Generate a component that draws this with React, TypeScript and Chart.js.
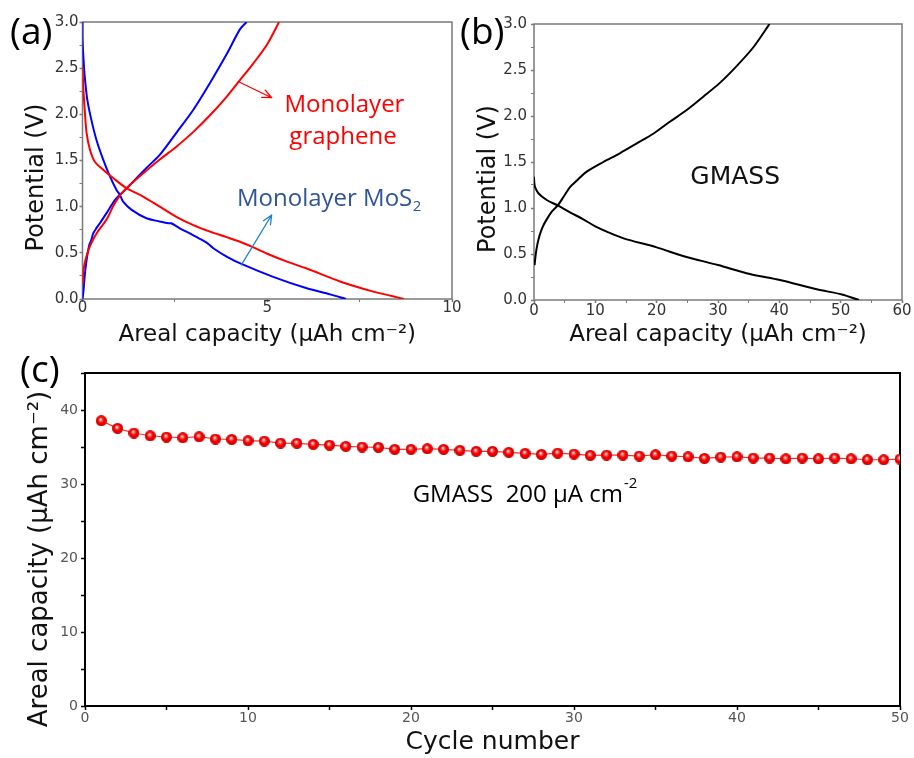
import React, { useEffect, useRef } from 'react';
import { Chart, registerables } from 'chart.js';

Chart.register(...registerables);

const SANS = '"DejaVu Sans", "Liberation Sans", Arial, sans-serif';
const CAL = '"Open Sans", "Noto Sans", sans-serif';
const RED = '#ff0000';
const BLUE = '#0000ff';
const GRAY = '#7a7a7a';
const MOS_TEXT = '#2f5597';
const MOS_ARROW = '#1f82cc';

// ===== Panel (a): monolayer graphene vs monolayer MoS2 =====
const grapheneChargeX = [0, 0.02, 0.06, 0.12, 0.2, 0.38, 0.65, 0.85, 1.01, 1.19, 1.55, 2.09, 2.54, 3.0, 3.45, 3.9, 4.26, 4.62, 5.0, 5.32];
const grapheneChargeY = [0.15, 0.28, 0.39, 0.48, 0.57, 0.71, 0.86, 1.02, 1.12, 1.2, 1.33, 1.51, 1.65, 1.81, 1.99, 2.19, 2.37, 2.55, 2.76, 3.0];
const grapheneDischargeX = [0, 0.01, 0.03, 0.06, 0.11, 0.2, 0.33, 0.56, 0.83, 1.19, 1.64, 2.09, 2.54, 3.0, 3.45, 3.9, 4.26, 4.58, 5.0, 5.5, 6.07, 6.97, 7.87, 8.4, 8.7];
const grapheneDischargeY = [2.52, 2.4, 2.23, 2.05, 1.8, 1.62, 1.49, 1.4, 1.31, 1.2, 1.11, 1.0, 0.89, 0.8, 0.73, 0.67, 0.62, 0.567, 0.49, 0.41, 0.33, 0.19, 0.08, 0.03, 0.0];
const mosChargeX = [0, 0.02, 0.06, 0.11, 0.18, 0.24, 0.29, 0.38, 0.47, 0.65, 0.875, 1.01, 1.1, 1.37, 1.73, 2.09, 2.54, 3.0, 3.45, 3.9, 4.26, 4.44];
const mosChargeY = [0, 0.06, 0.25, 0.42, 0.58, 0.64, 0.71, 0.77, 0.82, 0.93, 1.07, 1.13, 1.16, 1.27, 1.42, 1.56, 1.8, 2.05, 2.34, 2.65, 2.92, 3.0];
const mosDischargeX = [0, 0, 0.01, 0.03, 0.06, 0.13, 0.24, 0.38, 0.56, 0.74, 0.92, 1.01, 1.1, 1.33, 1.73, 2.09, 2.32, 2.4, 2.63, 3.0, 3.36, 3.54, 3.9, 4.3, 5.16, 6.07, 6.7, 7.13];
const mosDischargeY = [3.0, 2.85, 2.72, 2.58, 2.41, 2.16, 1.94, 1.72, 1.51, 1.33, 1.18, 1.13, 1.055, 0.965, 0.875, 0.84, 0.82, 0.82, 0.766, 0.69, 0.61, 0.55, 0.46, 0.38, 0.24, 0.116, 0.05, 0.0];

// ===== Panel (b): GMASS =====
const gmassChargeX = [0.1, 0.2, 0.4, 0.7, 1.1, 1.6, 2.2, 2.9, 3.9, 4.8, 5.9, 7.0, 8.6, 11.3, 14.0, 16.7, 19.5, 22.2, 24.9, 27.6, 30.3, 33.0, 35.8, 38.4];
const gmassChargeY = [0.38, 0.45, 0.55, 0.65, 0.74, 0.82, 0.89, 0.96, 1.03, 1.12, 1.23, 1.3, 1.395, 1.5, 1.595, 1.7, 1.81, 1.94, 2.065, 2.21, 2.36, 2.54, 2.75, 3.0];
const gmassDischargeX = [0, 0.05, 0.16, 0.71, 2.07, 3.96, 5.87, 8.04, 10.0, 11.85, 14.6, 20.0, 24.3, 30.0, 35.2, 40.1, 46.1, 50.2, 53.0];
const gmassDischargeY = [1.34, 1.27, 1.23, 1.16, 1.087, 1.025, 0.953, 0.877, 0.8, 0.743, 0.67, 0.572, 0.478, 0.38, 0.283, 0.217, 0.116, 0.06, 0.0];

// ===== Panel (c): cycling =====
const cycles = [1, 2, 3, 4, 5, 6, 7, 8, 9, 10, 11, 12, 13, 14, 15, 16, 17, 18, 19, 20, 21, 22, 23, 24, 25, 26, 27, 28, 29, 30, 31, 32, 33, 34, 35, 36, 37, 38, 39, 40, 41, 42, 43, 44, 45, 46, 47, 48, 49, 50];
const arealCapacity = [38.55, 37.52, 36.89, 36.52, 36.35, 36.25, 36.39, 36.08, 36.03, 35.85, 35.8, 35.53, 35.5, 35.36, 35.26, 35.09, 35.0, 34.95, 34.68, 34.68, 34.77, 34.68, 34.55, 34.41, 34.41, 34.28, 34.14, 34.0, 34.18, 34.05, 33.87, 33.91, 33.91, 33.78, 33.95, 33.78, 33.68, 33.46, 33.64, 33.68, 33.51, 33.51, 33.41, 33.51, 33.41, 33.51, 33.41, 33.28, 33.28, 33.37];

// ===== Tick values =====
const aXMajor = [0, 5, 10];
const aXMinor = [2.5, 7.5];
const potMajor = [0, 0.5, 1, 1.5, 2, 2.5, 3];
const potMinor = [0.25, 0.75, 1.25, 1.75, 2.25, 2.75];
const bXMajor = [0, 10, 20, 30, 40, 50, 60];
const bXMinor = [5, 15, 25, 35, 45, 55];
const cXMajor = [0, 10, 20, 30, 40, 50];
const cXMinor = [5, 15, 25, 35, 45];
const cYMajor = [0, 10, 20, 30, 40];
const cYMinor = [5, 15, 25, 35, 45];

// ===== Annotations (data units) =====
const grapheneLabelLines = ['Monolayer', 'graphene'];
const grapheneLabelX = [7.09, 7.05];
const grapheneLabelY = [2.025, 1.68];
const grapheneArrowFrom = [4.24, 2.35];
const grapheneArrowTo = [5.12, 2.18];
const mosLabelAt = [4.18, 1.01];
const mosArrowFrom = [4.3, 0.37];
const mosArrowTo = [5.12, 0.91];
const gmassLabelAt = [32.8, 1.258];
const cycleLabelAt = [20.1, 27.6];

const pts = (xs: number[], ys: number[]) => xs.map((x, i) => ({ x, y: ys[i] }));

type AxisSpec = {
  min: number; max: number; major: number[]; minor: number[];
  horizontal: boolean; size: number; fmt: (v: number) => string;
  tickFont: number; tickColor: string; tickPad: number; tickLen: number;
  lineColor: string; majorW: number; minorW: number;
  title?: string; titleSize?: number; titlePadBottom?: number;
};

function axis(s: AxisSpec) {
  const all = [...s.major, ...s.minor].sort((p, q) => p - q);
  return {
    type: 'linear',
    min: s.min,
    max: s.max,
    afterBuildTicks: (sc: any) => { sc.ticks = all.map((v) => ({ value: v })); },
    afterFit: (sc: any) => {
      if (s.horizontal) sc.height = s.size; else sc.width = s.size;
      sc.paddingLeft = 0; sc.paddingRight = 0; sc.paddingTop = 0; sc.paddingBottom = 0;
    },
    ticks: {
      autoSkip: false, maxRotation: 0, minRotation: 0,
      padding: s.tickPad, color: s.tickColor,
      font: { family: SANS, size: s.tickFont },
      callback: (v: number) => (s.major.includes(v) ? s.fmt(v) : ''),
    },
    grid: {
      display: true, drawOnChartArea: false, drawTicks: true,
      tickLength: s.tickLen, tickColor: s.lineColor,
      tickWidth: (c: any) => (c.tick && s.major.includes(c.tick.value) ? s.majorW : s.minorW),
    },
    border: { display: false },
    title: s.title
      ? { display: true, text: s.title, color: '#111', font: { family: SANS, size: s.titleSize }, padding: { top: 0, bottom: s.titlePadBottom } }
      : { display: false },
  };
}

function drawBox(chart: any, color: string, width: number) {
  const { ctx, chartArea: a } = chart;
  ctx.save();
  ctx.strokeStyle = color;
  ctx.lineWidth = width;
  ctx.strokeRect(a.left, a.top, a.right - a.left, a.bottom - a.top);
  ctx.restore();
}

function drawArrow(ctx: CanvasRenderingContext2D, x1: number, y1: number, x2: number, y2: number, color: string) {
  const ang = Math.atan2(y2 - y1, x2 - x1);
  const L = 10, sp = 0.42;
  ctx.save();
  ctx.strokeStyle = color; ctx.lineWidth = 1.3; ctx.lineCap = 'round'; ctx.lineJoin = 'round';
  ctx.beginPath();
  ctx.moveTo(x1, y1); ctx.lineTo(x2, y2);
  ctx.moveTo(x2 - L * Math.cos(ang - sp), y2 - L * Math.sin(ang - sp));
  ctx.lineTo(x2, y2);
  ctx.lineTo(x2 - L * Math.cos(ang + sp), y2 - L * Math.sin(ang + sp));
  ctx.stroke();
  ctx.restore();
}

function drawYTitle(ctx: CanvasRenderingContext2D, text: string, baseX: number, centerY: number, size: number) {
  ctx.save();
  ctx.translate(baseX, centerY);
  ctx.rotate(-Math.PI / 2);
  ctx.font = `${size}px ${SANS}`;
  ctx.fillStyle = '#111';
  ctx.textAlign = 'center';
  ctx.textBaseline = 'alphabetic';
  ctx.fillText(text, 0, 0);
  ctx.restore();
}

function panelLabel(ctx: CanvasRenderingContext2D, text: string, x: number, y: number) {
  ctx.save();
  ctx.font = `37px ${CAL}`;
  ctx.fillStyle = '#000';
  ctx.textAlign = 'left';
  ctx.textBaseline = 'alphabetic';
  ctx.fillText(text, x, y);
  ctx.restore();
}

const decorA = {
  id: 'decorA',
  beforeDatasetsDraw(chart: any) { drawBox(chart, GRAY, 1.5); },
  afterDraw(chart: any) {
    const { ctx } = chart;
    const px = (v: number) => chart.scales.x.getPixelForValue(v);
    const py = (v: number) => chart.scales.y.getPixelForValue(v);
    panelLabel(ctx, '(a)', 10, 44);
    drawYTitle(ctx, 'Potential (V)', 42.5, 177.5, 24);
    ctx.save();
    ctx.font = `24px ${CAL}`;
    ctx.textBaseline = 'alphabetic';
    ctx.fillStyle = RED;
    ctx.textAlign = 'center';
    grapheneLabelLines.forEach((t, i) => ctx.fillText(t, px(grapheneLabelX[i]), py(grapheneLabelY[i])));
    drawArrow(ctx, px(grapheneArrowFrom[0]), py(grapheneArrowFrom[1]), px(grapheneArrowTo[0]), py(grapheneArrowTo[1]), RED);
    ctx.fillStyle = MOS_TEXT;
    ctx.textAlign = 'left';
    const mx = px(mosLabelAt[0]), my = py(mosLabelAt[1]);
    ctx.fillText('Monolayer MoS', mx, my);
    const w = ctx.measureText('Monolayer MoS').width;
    ctx.font = `15px ${CAL}`;
    ctx.fillText('2', mx + w + 0.5, my + 5);
    drawArrow(ctx, px(mosArrowFrom[0]), py(mosArrowFrom[1]), px(mosArrowTo[0]), py(mosArrowTo[1]), MOS_ARROW);
    ctx.restore();
  },
};

const decorB = {
  id: 'decorB',
  beforeDatasetsDraw(chart: any) { drawBox(chart, GRAY, 1.5); },
  afterDraw(chart: any) {
    const { ctx } = chart;
    const px = (v: number) => chart.scales.x.getPixelForValue(v);
    const py = (v: number) => chart.scales.y.getPixelForValue(v);
    panelLabel(ctx, '(b)', 8, 44);
    drawYTitle(ctx, 'Potential (V)', 43, 179, 24);
    ctx.save();
    ctx.font = `25px ${SANS}`;
    ctx.fillStyle = '#111';
    ctx.textAlign = 'center';
    ctx.textBaseline = 'alphabetic';
    ctx.fillText('GMASS', px(gmassLabelAt[0]), py(gmassLabelAt[1]));
    ctx.restore();
  },
};

const decorC = {
  id: 'decorC',
  beforeDatasetsDraw(chart: any) { drawBox(chart, '#000', 2); },
  afterDraw(chart: any) {
    const { ctx } = chart;
    const px = (v: number) => chart.scales.x.getPixelForValue(v);
    const py = (v: number) => chart.scales.y.getPixelForValue(v);
    panelLabel(ctx, '(c)', 20, 42);
    drawYTitle(ctx, 'Areal capacity (μAh cm⁻²)', 47, 219, 26);
    ctx.save();
    ctx.font = `24px ${CAL}`;
    ctx.fillStyle = '#000';
    ctx.textAlign = 'left';
    ctx.textBaseline = 'alphabetic';
    const lx = px(cycleLabelAt[0]), ly = py(cycleLabelAt[1]);
    const main = 'GMASS  200 μA cm';
    ctx.fillText(main, lx, ly);
    const w = ctx.measureText(main).width;
    ctx.font = `15px ${CAL}`;
    ctx.fillText('-2', lx + w + 1, ly - 14);
    ctx.restore();
  },
};

const baseOptions = (padding: any) => ({
  responsive: false,
  maintainAspectRatio: false,
  animation: false,
  events: [],
  layout: { padding },
  plugins: { legend: { display: false }, tooltip: { enabled: false }, title: { display: false } },
});

const curve = (data: any[], color: string) => ({
  data, borderColor: color, backgroundColor: color, borderWidth: 2, pointRadius: 0, tension: 0.3, fill: false,
});

function buildA() {
  return {
    type: 'line',
    data: {
      datasets: [
        curve(pts(grapheneChargeX, grapheneChargeY), RED),
        curve(pts(grapheneDischargeX, grapheneDischargeY), RED),
        curve(pts(mosChargeX, mosChargeY), BLUE),
        curve(pts(mosDischargeX, mosDischargeY), BLUE),
      ],
    },
    options: {
      ...baseOptions({ left: 0, top: 22, right: 18, bottom: 0 }),
      scales: {
        x: axis({ min: 0, max: 10, major: aXMajor, minor: aXMinor, horizontal: true, size: 52, fmt: (v) => String(v), tickFont: 15, tickColor: '#333', tickPad: -3, tickLen: 3, lineColor: GRAY, majorW: 1.5, minorW: 1, title: 'Areal capacity (μAh cm⁻²)', titleSize: 23, titlePadBottom: 2 }),
        y: axis({ min: 0, max: 3, major: potMajor, minor: potMinor, horizontal: false, size: 82.5, fmt: (v) => v.toFixed(1), tickFont: 15, tickColor: '#333', tickPad: 1, tickLen: 3, lineColor: GRAY, majorW: 1.5, minorW: 1 }),
      },
    },
    plugins: [decorA],
  };
}

function buildB() {
  return {
    type: 'line',
    data: {
      datasets: [
        curve(pts(gmassChargeX, gmassChargeY), '#000'),
        curve(pts(gmassDischargeX, gmassDischargeY), '#000'),
      ],
    },
    options: {
      ...baseOptions({ left: 0, top: 24, right: 12, bottom: 0 }),
      scales: {
        x: axis({ min: 0, max: 60, major: bXMajor, minor: bXMinor, horizontal: true, size: 51, fmt: (v) => String(v), tickFont: 15, tickColor: '#333', tickPad: -1, tickLen: 3, lineColor: GRAY, majorW: 1.5, minorW: 1, title: 'Areal capacity (μAh cm⁻²)', titleSize: 23, titlePadBottom: 2 }),
        y: axis({ min: 0, max: 3, major: potMajor, minor: potMinor, horizontal: false, size: 82, fmt: (v) => v.toFixed(1), tickFont: 15, tickColor: '#333', tickPad: 4, tickLen: 3, lineColor: GRAY, majorW: 1.5, minorW: 1 }),
      },
    },
    plugins: [decorB],
  };
}

function buildC(sphere: HTMLCanvasElement) {
  return {
    type: 'line',
    data: {
      datasets: [{
        data: pts(cycles, arealCapacity),
        borderColor: '#ff2a2a', backgroundColor: RED, borderWidth: 1.2,
        pointStyle: sphere, pointRadius: 5, tension: 0, fill: false,
      }],
    },
    options: {
      ...baseOptions({ left: 0, top: 33, right: 14, bottom: 0 }),
      scales: {
        x: axis({ min: 0, max: 50, major: cXMajor, minor: cXMinor, horizontal: true, size: 52, fmt: (v) => String(v), tickFont: 14, tickColor: '#555', tickPad: 0, tickLen: 4, lineColor: '#000', majorW: 1.5, minorW: 1.5, title: 'Cycle number', titleSize: 25, titlePadBottom: 1 }),
        y: axis({ min: 0, max: 45, major: cYMajor, minor: cYMinor, horizontal: false, size: 85, fmt: (v) => String(v), tickFont: 14, tickColor: '#555', tickPad: 3, tickLen: 4, lineColor: '#000', majorW: 1.5, minorW: 1.5 }),
      },
    },
    plugins: [decorC],
  };
}

function makeSphere(d: number) {
  const c = document.createElement('canvas');
  c.width = d; c.height = d;
  const g = c.getContext('2d')!;
  const r = d / 2;
  const grad = g.createRadialGradient(r * 0.85, r * 0.75, 0.3, r, r, r);
  grad.addColorStop(0, '#ffffff');
  grad.addColorStop(0.22, '#ff7070');
  grad.addColorStop(0.5, '#ff0000');
  grad.addColorStop(1, '#c40000');
  g.fillStyle = grad;
  g.beginPath();
  g.arc(r, r, r, 0, Math.PI * 2);
  g.fill();
  return c;
}

export default function App() {
  const refA = useRef<HTMLCanvasElement>(null);
  const refB = useRef<HTMLCanvasElement>(null);
  const refC = useRef<HTMLCanvasElement>(null);

  useEffect(() => {
    const sphere = makeSphere(11);
    const charts = [
      new Chart(refA.current as HTMLCanvasElement, buildA() as any),
      new Chart(refB.current as HTMLCanvasElement, buildB() as any),
      new Chart(refC.current as HTMLCanvasElement, buildC(sphere) as any),
    ];
    return () => charts.forEach((ch) => ch.destroy());
  }, []);

  return (
    <div style={{ position: 'absolute', left: 0, top: 0, width: 914, height: 758, background: '#fff', overflow: 'hidden' }}>
      <canvas ref={refA} width={470} height={351} style={{ position: 'absolute', left: 0, top: 0, width: 470, height: 351 }} />
      <canvas ref={refB} width={462} height={351} style={{ position: 'absolute', left: 452, top: 0, width: 462, height: 351 }} />
      <canvas ref={refC} width={914} height={418} style={{ position: 'absolute', left: 0, top: 340, width: 914, height: 418 }} />
    </div>
  );
}
